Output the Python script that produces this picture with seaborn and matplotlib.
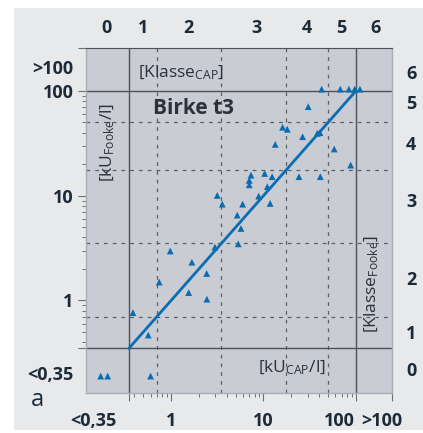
import matplotlib
matplotlib.use('Agg')
import matplotlib.pyplot as plt
from matplotlib.patches import Rectangle
from matplotlib.ticker import FixedLocator, NullFormatter, NullLocator
import pandas as pd
import seaborn as sns

# Birke t3: CAP (x) vs Fooke (y), kU/l ; <0,35 values sit at ~0.2
cap = [0.173, 0.206, 0.60, 0.387, 0.566, 0.744, 0.98, 1.55, 1.68, 2.43, 2.44,
       2.98, 5.33, 5.71, 5.2, 3.16, 3.58, 5.95, 7.33, 7.01, 7.01, 10.3, 12.4,
       11.0, 8.87, 11.8, 42.6, 67.8, 84, 97, 110.6, 30.5, 16.1, 18.1, 13.4,
       26.5, 38.2, 40.8, 58.3, 87.8, 24.2, 41.2]
fooke = [0.19, 0.19, 0.19, 0.766, 0.468, 1.50, 2.97, 1.19, 2.32, 1.81, 1.03,
         3.23, 3.47, 4.87, 6.53, 10.07, 8.31, 8.31, 15.7, 14.0, 12.7, 16.3, 15.2,
         12.2, 9.91, 8.44, 104, 104, 104, 104, 104, 70.8, 45.0, 43.0, 30.9,
         36.6, 39.4, 40.0, 27.9, 19.6, 15.2, 15.2]

# class boundaries (kU/l), same for both methods
class_bounds = [0.7, 3.5, 17.5, 50]
range_lo, range_hi = 0.35, 100

# axis labels
x_tick_pos = [0.146, 0.35, 1, 10, 66, 100, 190, 246]
x_tick_lab = ['<0,35', '', '1', '10', '100', '', '>100', '']
y_tick_pos = [0.203, 0.35, 1, 10, 100, 169, 254]
y_tick_lab = ['<0,35', '', '1', '10', '100', '>100', '']
classes = ['0', '1', '2', '3', '4', '5', '6']
top_class_pos = [0.2, 0.496, 1.56, 8.3, 29.5, 68.8, 165]
right_class_pos = [0.22, 0.5, 1.64, 9.1, 32, 79, 153]

blue = '#0a6db3'
text_col = '#1d2b38'
panel = '#e8e9eb'
plot_bg = '#c9ccd2'

plt.rcParams['font.family'] = ['Open Sans', 'DejaVu Sans']
plt.rcParams['mathtext.fontset'] = 'custom'
plt.rcParams['mathtext.rm'] = 'Open Sans'
plt.rcParams['mathtext.it'] = 'Open Sans'
plt.rcParams['mathtext.bf'] = 'Open Sans:bold'

fig = plt.figure(figsize=(4.23, 4.33), dpi=100)
fig.patch.set_facecolor('white')
fig.add_artist(Rectangle((14 / 423, 3 / 433), 1, 422 / 433, transform=fig.transFigure,
                         facecolor=panel, edgecolor='none', zorder=-5))

ax = fig.add_axes([86 / 423, 40 / 433, 306 / 423, 344.5 / 433])
ax.set_facecolor(plot_bg)
ax.set_xscale('log')
ax.set_yscale('log')
ax.set_xlim(0.12, 246)
ax.set_ylim(0.131, 254)

# class grid
for b in class_bounds:
    ax.axvline(b, color='#5a6068', lw=0.9, ls=(0, (3, 4)), zorder=1)
    ax.axhline(b, color='#5a6068', lw=0.9, ls=(0, (3, 4)), zorder=1)
for v in (range_lo, range_hi):
    ax.axvline(v, color='#4b525a', lw=1, zorder=2)
    ax.axhline(v, color='#4b525a', lw=1, zorder=2)

line_df = pd.DataFrame({'x': [range_lo, range_hi], 'y': [range_lo, range_hi]})
sns.lineplot(data=line_df, x='x', y='y', ax=ax, color=blue, lw=2, zorder=3)
sns.scatterplot(x=cap, y=fooke, ax=ax, marker='^', s=24, color=blue,
                edgecolor='none', linewidth=0, zorder=5)
ax.set_xlabel('')
ax.set_ylabel('')

# ticks
minor = [m * 10 ** e for e in (-1, 0, 1) for m in range(2, 10)
         if range_lo < m * 10 ** e < range_hi]
ax.set_xticks(x_tick_pos, labels=x_tick_lab)
ax.set_yticks(y_tick_pos, labels=y_tick_lab)
ax.xaxis.set_minor_locator(FixedLocator(minor))
ax.yaxis.set_minor_locator(FixedLocator(minor))
ax.xaxis.set_minor_formatter(NullFormatter())
ax.yaxis.set_minor_formatter(NullFormatter())
ax.tick_params(which='major', length=6, width=0.8, color='#6a7078',
               labelsize=13, labelcolor=text_col)
ax.tick_params(axis='x', which='major', pad=8)
ax.tick_params(axis='y', which='major', pad=3)
ax.tick_params(which='minor', length=3, width=0.7, color='#6a7078')
for lab in ax.get_xticklabels() + ax.get_yticklabels():
    lab.set_fontweight('bold')
for i in (0, 4, 6):
    ax.xaxis.get_major_ticks()[i].tick1line.set_visible(False)
for i in (0, 5):
    ax.yaxis.get_major_ticks()[i].tick1line.set_visible(False)

for side in ('left', 'bottom', 'right'):
    ax.spines[side].set_color('#a9aeb4')
    ax.spines[side].set_linewidth(1)
ax.spines['top'].set_color('#4b525a')

top = ax.secondary_xaxis('top')
top.set_xticks(top_class_pos, labels=classes)
top.xaxis.set_minor_locator(NullLocator())
top.tick_params(length=0, pad=8, labelsize=13, labelcolor=text_col)
right = ax.secondary_yaxis('right')
right.set_yticks(right_class_pos, labels=classes)
right.yaxis.set_minor_locator(NullLocator())
right.tick_params(length=0, pad=10, labelsize=13, labelcolor=text_col)
for sec in (top, right):
    for sp in sec.spines.values():
        sp.set_visible(False)
for lab in top.get_xticklabels() + right.get_yticklabels():
    lab.set_fontweight('bold')

# in-plot annotations
ax.text(0.17, 0.93, r'[Klasse$_{\mathrm{CAP}}$]', transform=ax.transAxes,
        fontsize=12.5, color='#2a323c', va='center', ha='left')
ax.text(0.219, 0.826, 'Birke t3', transform=ax.transAxes, fontsize=15,
        fontweight='bold', color='#2a323c', va='center', ha='left')
ax.text(0.07, 0.729, r'[kU$_{\mathrm{Fooke}}$/l]', transform=ax.transAxes,
        fontsize=12.5, color='#2a323c', rotation=90, va='center', ha='center')
ax.text(0.562, 0.072, r'[kU$_{\mathrm{CAP}}$/l]', transform=ax.transAxes,
        fontsize=12.5, color='#2a323c', va='center', ha='left')
ax.text(0.935, 0.316, r'[Klasse$_{\mathrm{Fooke}}$]', transform=ax.transAxes,
        fontsize=12.5, color='#2a323c', rotation=90, va='center', ha='center')
fig.text(37.5 / 423, 1 - 400 / 433, 'a', fontsize=17, color=text_col,
         va='center', ha='center')

fig.savefig('out.png', dpi=100)
